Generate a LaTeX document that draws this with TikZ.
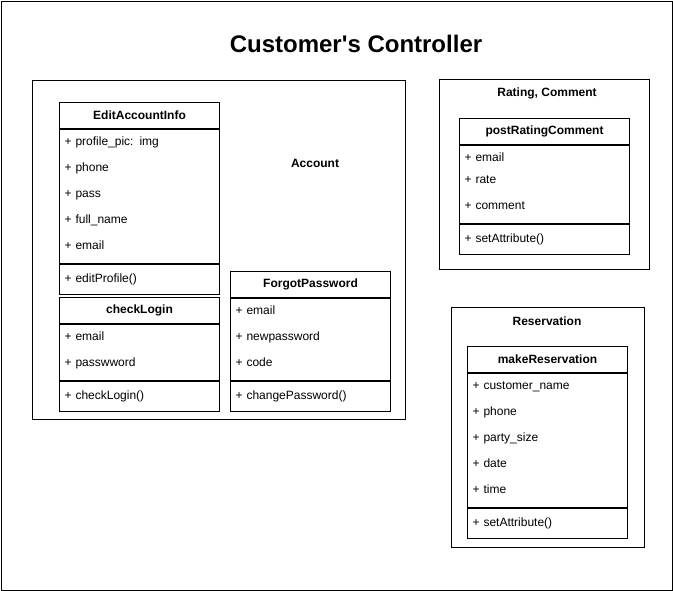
\documentclass[tikz,border=0pt]{standalone}
\usepackage{fontspec}
\setmainfont{Liberation Sans}
\usetikzlibrary{positioning}
\tikzset{
    group/.style     = {draw=black, line width=0.75pt, anchor=north west, inner sep=0pt},
    groupLabel/.style = {font=\fontsize{9}{11}\selectfont\bfseries},
    classHead/.style = {draw=black, line width=0.75pt, anchor=north west,
            minimum width=120pt, minimum height=19.5pt, inner sep=0pt,
            font=\fontsize{9}{11}\selectfont\bfseries},
    classOps/.style  = {draw=black, line width=0.75pt, align=left,
            text width=112.5pt, inner xsep=3.75pt, inner ysep=0pt,
            minimum height=22.5pt, font=\fontsize{9}{19.5}\selectfont},
    classBody/.style = {classOps, minimum height=0pt,
            execute at end node={\rule[-4.5pt]{0pt}{0pt}}},
}

\begin{document}
\begin{tikzpicture}[x=0.75pt, y=-0.75pt]
            \useasboundingbox (0,0) rectangle (673,591);
            % Frames
            \node[group, minimum width=503.25pt, minimum height=441.75pt] (outer) at (1,1) {};
            \node[font=\fontsize{18}{22}\selectfont\bfseries] (title) at (356,44) {Customer\textquotesingle s Controller};
            \node[group, minimum width=279.75pt, minimum height=254.25pt] (account) at (32,80) {};
            \node[groupLabel] (accountLabel) at (315,163) {Account};
            \node[group, minimum width=157.5pt, minimum height=142.5pt] (rating) at (439,79) {};
            \node[groupLabel] (ratingLabel) at (547,93) {Rating, Comment};
            \node[group, minimum width=144.75pt, minimum height=180pt] (reservation) at (451,307) {};
            \node[groupLabel] (reservationLabel) at (547,321) {Reservation};

            % Classes
            \node[classHead] (edit) at (59,102) {EditAccountInfo};
            \node[classBody, minimum height=100.5pt, below=0pt of edit] (editAttr)
                {+ profile\_pic: img\\+ phone\\+ pass\\+ full\_name\\+ email};
            \node[classOps, below=0pt of editAttr] (editOps) {+ editProfile()};

            \node[classHead] (login) at (59,297) {checkLogin};
            \node[classBody, minimum height=42pt, below=0pt of login] (loginAttr)
                {+ email\\+ passwword};
            \node[classOps, below=0pt of loginAttr] (loginOps) {+ checkLogin()};

            \node[classHead] (forgot) at (230,271) {ForgotPassword};
            \node[classBody, minimum height=61.5pt, below=0pt of forgot] (forgotAttr)
                {+ email\\+ newpassword\\+ code};
            \node[classOps, below=0pt of forgotAttr] (forgotOps) {+ changePassword()};

            \node[classHead, minimum width=127.5pt] (rate) at (459,118) {postRatingComment};
            \node[classBody, text width=120pt, minimum height=58.5pt, below=0pt of rate] (rateAttr)
                {+ email\\[-3pt]+ rate\\+ comment};
            \node[classOps, text width=120pt, below=0pt of rateAttr] (rateOps) {+ setAttribute()};

            \node[classHead] (reserve) at (467,346) {makeReservation};
            \node[classBody, minimum height=100.5pt, below=0pt of reserve] (reserveAttr)
                {+ customer\_name\\+ phone\\+ party\_size\\+ date\\+ time};
            \node[classOps, below=0pt of reserveAttr] (reserveOps) {+ setAttribute()};
\end{tikzpicture}
\end{document}
